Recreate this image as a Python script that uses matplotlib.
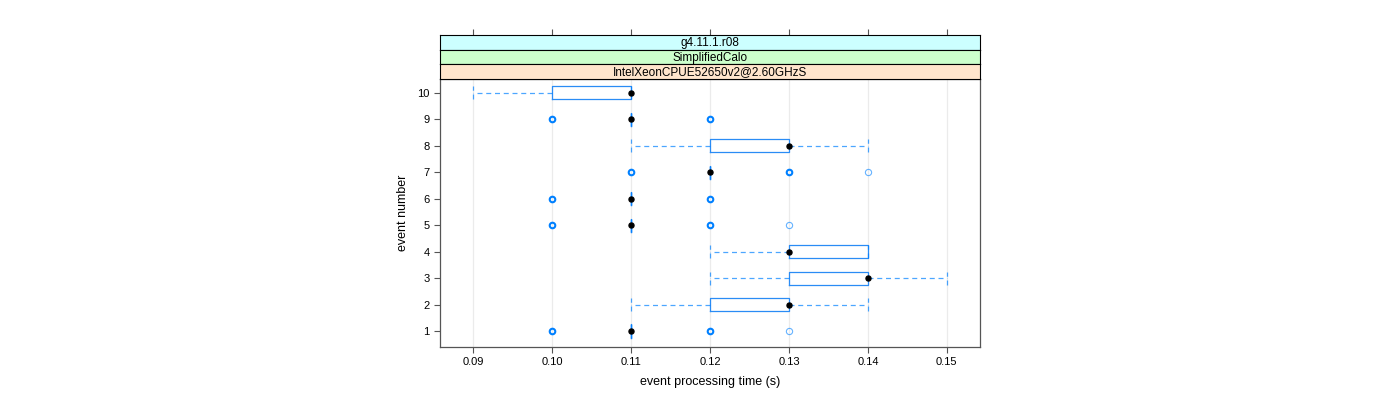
import matplotlib.pyplot as plt

plt.rcParams['font.family'] = ['Liberation Sans', 'DejaVu Sans']

# valores (tiempos en s por evento)
events = [1, 2, 3, 4, 5, 6, 7, 8, 9, 10]
q1 = [0.11, 0.12, 0.13, 0.13, 0.11, 0.11, 0.12, 0.12, 0.11, 0.10]
med = [0.11, 0.13, 0.14, 0.13, 0.11, 0.11, 0.12, 0.13, 0.11, 0.11]
q3 = [0.11, 0.13, 0.14, 0.14, 0.11, 0.11, 0.12, 0.13, 0.11, 0.11]
whislo = [0.11, 0.11, 0.12, 0.12, 0.11, 0.11, 0.12, 0.11, 0.11, 0.09]
whishi = [0.11, 0.14, 0.15, 0.14, 0.11, 0.11, 0.12, 0.14, 0.11, 0.11]
# outliers: (evento, valor, veces)
outliers = [(1, 0.10, 3), (1, 0.12, 3), (1, 0.13, 1),
            (5, 0.10, 3), (5, 0.12, 3), (5, 0.13, 1),
            (6, 0.10, 3), (6, 0.12, 2),
            (7, 0.11, 3), (7, 0.13, 3), (7, 0.14, 1),
            (9, 0.10, 3), (9, 0.12, 2)]
ticks = [0.09, 0.10, 0.11, 0.12, 0.13, 0.14, 0.15]
strips = ['g4.11.1.r08', 'SimplifiedCalo', 'IntelXeonCPUE52650v2@2.60GHzS']
strip_colors = ['#ccffff', '#ccffcc', '#ffe5cc']

blue = '#0080ff'
xlim = (0.0858, 0.1542)

fig = plt.figure(figsize=(14, 4), dpi=100)
ax = fig.add_axes([440 / 1400, 1 - 347 / 400, 540 / 1400, 268 / 400])

stats = []
for i in range(len(events)):
    stats.append({'q1': q1[i], 'med': med[i], 'q3': q3[i],
                  'whislo': whislo[i], 'whishi': whishi[i], 'fliers': []})

ax.bxp(stats, positions=events, orientation='horizontal', widths=0.5,
       capwidths=0.5, showfliers=False, manage_ticks=False,
       boxprops=dict(color='#2a8cf5', lw=0.9),
       whiskerprops=dict(color=blue, lw=0.9, ls=(0, (4, 3)), alpha=0.7),
       capprops=dict(color=blue, lw=0.9, ls=(0, (4, 3)), alpha=0.7),
       medianprops=dict(visible=False))

ax.plot(med, events, 'o', color='black', ms=3.6, zorder=5)

for ev, val, n in outliers:
    if n > 1:
        ax.plot(val, ev, 'o', mfc='none', mec=blue, mew=1.5, ms=4, zorder=4)
    else:
        ax.plot(val, ev, 'o', mfc='none', mec=blue, mew=0.8, ms=4.5, alpha=0.6, zorder=4)

for t in ticks:
    ax.axvline(t, color='#ebebeb', lw=0.9, zorder=0)

ax.set_xlim(*xlim)
ax.set_ylim(0.4, 10.52)
ax.set_xticks(ticks)
ax.set_xticklabels(['%.2f' % t for t in ticks])
ax.set_yticks(events)
ax.tick_params(axis='both', labelsize=8, color='#555555', length=4, width=0.8)
for s in ax.spines.values():
    s.set_color('#555555')
    s.set_linewidth(0.9)
ax.set_xlabel('event processing time (s)', fontsize=9, labelpad=6)
ax.set_ylabel('event number', fontsize=9, labelpad=6)

# tiras de lattice
h = 44 / 3 / 400
for k, (lab, col) in enumerate(zip(strips, strip_colors)):
    sax = fig.add_axes([440 / 1400, 1 - 35 / 400 - (k + 1) * h, 540 / 1400, h])
    sax.set_facecolor(col)
    sax.set_xlim(*xlim)
    sax.set_yticks([])
    sax.text(0.5, 0.45, lab, transform=sax.transAxes, ha='center', va='center', fontsize=8.5)
    for s in sax.spines.values():
        s.set_color('black')
        s.set_linewidth(0.8)
    if k == 0:
        sax.set_xticks(ticks)
        sax.xaxis.tick_top()
        sax.tick_params(axis='x', labeltop=False, color='#555555', length=4, width=0.8)
    else:
        sax.set_xticks([])

fig.savefig('out.png', dpi=100)
